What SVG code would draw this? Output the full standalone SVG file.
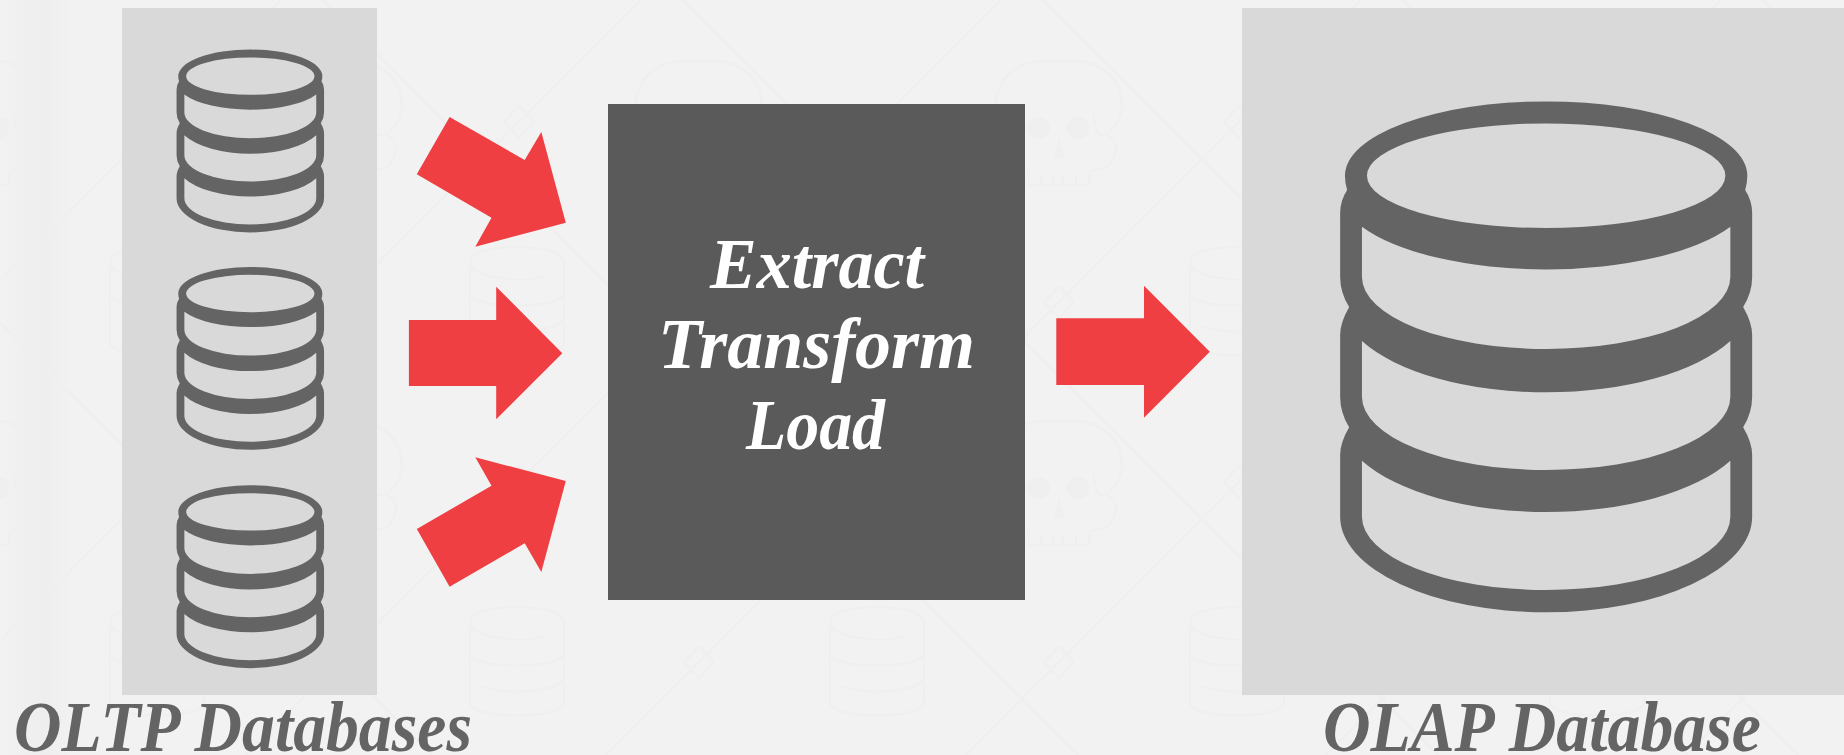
<svg xmlns="http://www.w3.org/2000/svg" width="1844" height="755" viewBox="0 0 1844 755">
<style>
.wm{fill:none;stroke:#efefef;stroke-width:2.2;stroke-linecap:round;stroke-linejoin:round}
.wmf{fill:#efefef}
.panel{fill:#d9d9d9}
.db{fill:#646464;fill-rule:evenodd}
.arrow{fill:#ef3f43}
text{font-family:"Liberation Serif","Times New Roman",serif;font-weight:bold;font-style:italic;font-size:72px}
.cap{fill:#646464}
.etl{fill:#ffffff}
</style>
<defs>
<linearGradient id="edge" x1="0" y1="0" x2="1" y2="0">
<stop offset="0" stop-color="#f2f2f2"/>
<stop offset="0.6" stop-color="#eeeeee"/>
<stop offset="1" stop-color="#f2f2f2"/>
</linearGradient>
<path id="dbicon" class="db" d="M-201.2,75A201.2,74.3 0 0 1 201.2,75Q201.2,82 199,89.3Q206,100 206,112.3V176.3Q206,192 197,206.3Q206,222 206,234.3V296Q206,312 197,326.6Q206,342 206,354.3V416A206,95.6 0 0 1 -206,416V354.3Q-206,342 -197,326.6Q-206,312 -206,296V234.3Q-206,222 -197,206.3Q-206,192 -206,176.3V112.3Q-206,100 -199,89.3Q-201.2,82 -201.2,75Z
M-179.2,75A179.2,52.3 0 0 0 179.2,75A179.2,52.3 0 0 0 -179.2,75Z
M-184.2,126A206,77.3 0 0 0 184.2,126V176.3A184.2,72 0 0 1 -184.2,176.3Z
M-184.2,240.3A206,93 0 0 0 184.2,240.3V296A184.2,73.3 0 0 1 -184.2,296Z
M-184.2,360A206,93 0 0 0 184.2,360V416A184.2,73.3 0 0 1 -184.2,416Z"/>
<g id="skull">
<path class="wm" d="M-30,63H30V55Q30,48 36,48C46,48 54,42 56,32C58,24 56,16 47,13H39L34,-7M49,11C58,2 63,-6 63,-16C63,-45 40,-61 15,-61H-15C-40,-61 -63,-45 -63,-16C-63,-6 -58,2 -49,11M-47,13C-56,16 -58,24 -56,32C-54,42 -46,48 -36,48Q-30,48 -30,55V63M-18,53V63M-6,53V63M4,53V63M17,53V63"/>
<ellipse class="wmf" cx="-20" cy="6" rx="11.5" ry="11"/>
<ellipse class="wmf" cx="19" cy="6" rx="11.5" ry="11"/>
<path class="wmf" d="M0,15L5,35H-5Z"/>
</g>
<path id="wdb" class="wm" d="M-47,-40C-47,-60 47,-60 47,-40V40C47,58 -47,58 -47,40ZM-47,-40C-47,-25 0,-18 27,-26M-47,-7C-40,7 40,7 47,-7M-33,25C-10,33 35,30 47,18"/>
<path id="dia" class="wm" d="M-15,0L0,-16L15,0L0,16Z"/>
</defs>
<g id="background">
<rect width="1844" height="755" fill="#f2f2f2"/>
<rect width="75" height="755" fill="url(#edge)"/>
<path class="wm" d="M0,323L432,755M323,0L1078,755M683,0L1438,755M1043,0L1798,755M1403,0L1844,441M1763,0L1844,81M0,281L281,0M0,641L641,0M246,755L1001,0M606,755L1361,0M966,755L1721,0M1326,755L1844,237M1686,755L1844,597"/>
<use href="#skull" x="-21" y="122"/><use href="#skull" x="339" y="122"/><use href="#skull" x="699" y="122"/><use href="#skull" x="1059" y="122"/><use href="#skull" x="1419" y="122"/><use href="#skull" x="1779" y="122"/>
<use href="#skull" x="-21" y="482"/><use href="#skull" x="339" y="482"/><use href="#skull" x="699" y="482"/><use href="#skull" x="1059" y="482"/><use href="#skull" x="1419" y="482"/><use href="#skull" x="1779" y="482"/>
<use href="#wdb" x="157" y="302"/><use href="#wdb" x="517" y="302"/><use href="#wdb" x="877" y="302"/><use href="#wdb" x="1237" y="302"/><use href="#wdb" x="1597" y="302"/>
<use href="#wdb" x="157" y="662"/><use href="#wdb" x="517" y="662"/><use href="#wdb" x="877" y="662"/><use href="#wdb" x="1237" y="662"/><use href="#wdb" x="1597" y="662"/>
<use href="#dia" x="159" y="122"/><use href="#dia" x="519" y="122"/><use href="#dia" x="879" y="122"/><use href="#dia" x="1239" y="122"/><use href="#dia" x="1599" y="122"/>
<use href="#dia" x="159" y="482"/><use href="#dia" x="519" y="482"/><use href="#dia" x="879" y="482"/><use href="#dia" x="1239" y="482"/><use href="#dia" x="1599" y="482"/>
<use href="#dia" x="339" y="302"/><use href="#dia" x="699" y="302"/><use href="#dia" x="1059" y="302"/><use href="#dia" x="1419" y="302"/><use href="#dia" x="1779" y="302"/>
<use href="#dia" x="339" y="662"/><use href="#dia" x="699" y="662"/><use href="#dia" x="1059" y="662"/><use href="#dia" x="1419" y="662"/><use href="#dia" x="1779" y="662"/>
</g>
<g id="oltp">
<rect class="panel" x="122" y="8" width="255" height="687"/>
<use href="#dbicon" transform="translate(250.3,49.3) scale(0.358)"/>
<use href="#dbicon" transform="translate(250.3,266.7) scale(0.358)"/>
<use href="#dbicon" transform="translate(250.3,485) scale(0.358)"/>
<text class="cap" x="14" y="750.7" textLength="458" lengthAdjust="spacingAndGlyphs">OLTP Databases</text>
</g>
<g id="etl">
<rect x="608" y="104" width="417" height="496" fill="#5a5a5a"/>
<text class="etl" x="710" y="288" textLength="214" lengthAdjust="spacingAndGlyphs">Extract</text>
<text class="etl" x="658" y="368" textLength="317" lengthAdjust="spacingAndGlyphs">Transform</text>
<text class="etl" x="746" y="449" textLength="139" lengthAdjust="spacingAndGlyphs">Load</text>
</g>
<g id="olap">
<rect class="panel" x="1242" y="8" width="602" height="687"/>
<use href="#dbicon" transform="translate(1546.15,100.7)"/>
<text class="cap" x="1323" y="750.7" textLength="438" lengthAdjust="spacingAndGlyphs">OLAP Database</text>
</g>
<g id="connectors">
<polygon class="arrow" points="449.6,117 524.7,160 541.3,132 565.8,222.7 475.3,246.7 491.5,217.7 416.8,174.3"/>
<polygon class="arrow" points="408.9,320 496.2,320 496.2,286.7 562.3,353.3 496.2,419.3 496.2,386 408.9,386"/>
<polygon class="arrow" points="449.6,586.7 524.7,543.3 541.3,572 565.8,481 475.3,457.3 491.5,485.7 416.8,529"/>
<polygon class="arrow" points="1056.3,318.3 1144,318.3 1144,285.7 1209.8,351.7 1144,417.7 1144,385 1056.3,385"/>
</g>
</svg>
